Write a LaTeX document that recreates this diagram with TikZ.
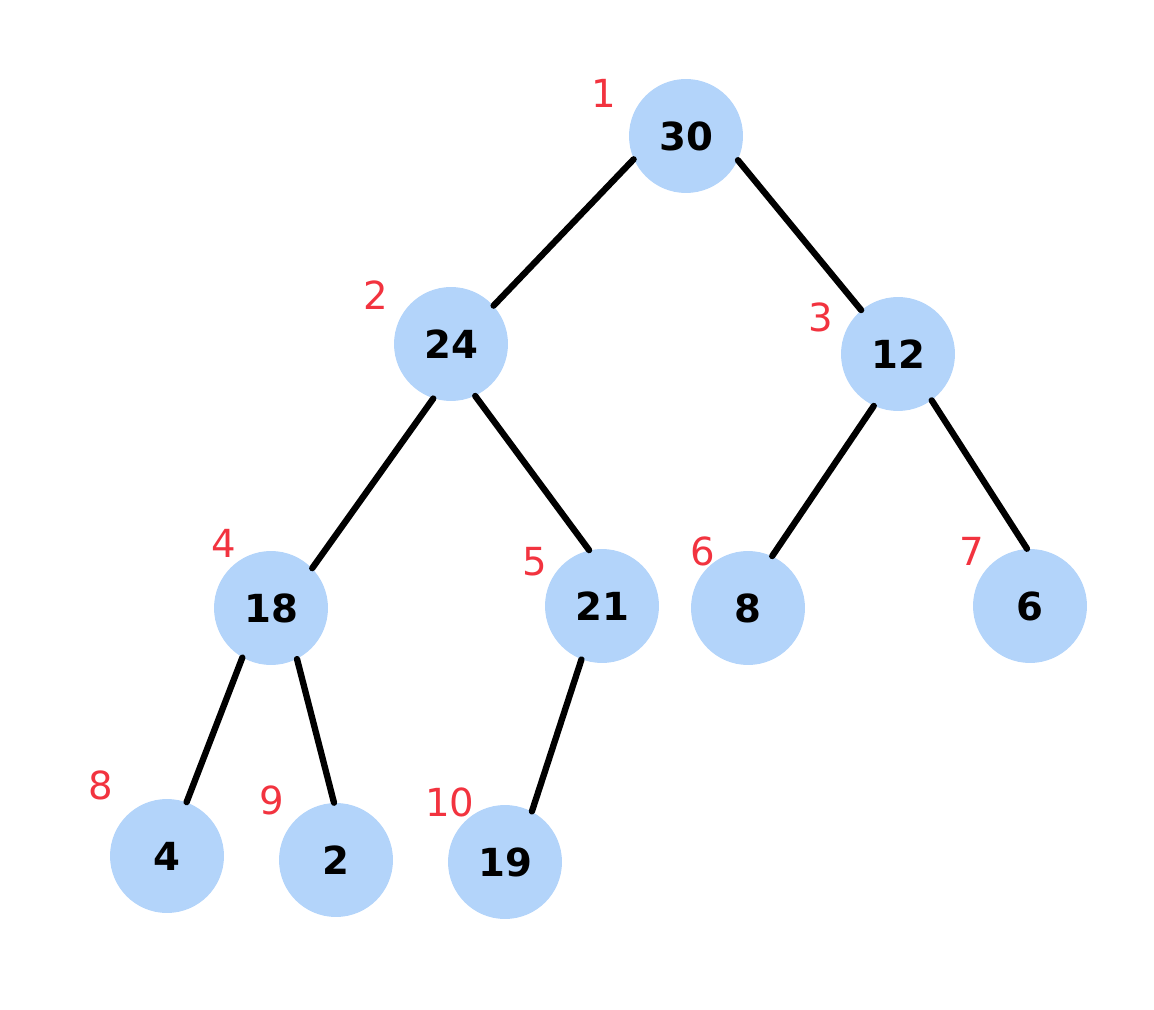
\documentclass[tikz,border=0pt]{standalone}
\usepackage{fontspec}
\setmainfont{DejaVu Sans}
\definecolor{nodeblue}{HTML}{B3D4FA}
\definecolor{idxred}{HTML}{F2333F}
\begin{document}
\begin{tikzpicture}[x=0.02cm,y=-0.02cm,
  heapnode/.style={circle,fill=nodeblue,minimum size=2.28cm,inner sep=0pt,font=\fontsize{22}{24}\selectfont\bfseries},
  idx/.style={text=idxred,font=\fontsize{22}{24}\selectfont},
  edge/.style={line width=3.6pt,black,line cap=round}]
\useasboundingbox (0,0) rectangle (1154,1010);
\node[heapnode] (n1) at (686,136) {30};
\node[heapnode] (n2) at (451,344) {24};
\node[heapnode] (n3) at (898,354) {12};
\node[heapnode] (n4) at (271,608) {18};
\node[heapnode] (n5) at (602,606) {21};
\node[heapnode] (n6) at (748,608) {8};
\node[heapnode] (n7) at (1030,606) {6};
\node[heapnode] (n8) at (167,856) {4};
\node[heapnode] (n9) at (336,860) {2};
\node[heapnode] (n10) at (505,862) {19};
\node[idx] (i1) at (604,93) {1};
\node[idx] (i2) at (376,295) {2};
\node[idx] (i3) at (821,317) {3};
\node[idx] (i4) at (224,543) {4};
\node[idx] (i5) at (535,562) {5};
\node[idx] (i6) at (703,551) {6};
\node[idx] (i7) at (972,551) {7};
\node[idx] (i8) at (101,785) {8};
\node[idx] (i9) at (272,800) {9};
\node[idx] (i10) at (450,802) {10};
\draw[edge] (n1.204.8) -- (n2.42.7);
\draw[edge] (n1.335.6) -- (n3.130.1);
\draw[edge] (n2.252.2) -- (n4.44.3);
\draw[edge] (n2.295.3) -- (n5.103.8);
\draw[edge] (n3.245.7) -- (n6.65.5);
\draw[edge] (n3.306.9) -- (n7.93);
\draw[edge] (n4.240.1) -- (n8.70.6);
\draw[edge] (n4.297) -- (n9.92);
\draw[edge] (n5.249.8) -- (n10.62.6);
\end{tikzpicture}
\end{document}
